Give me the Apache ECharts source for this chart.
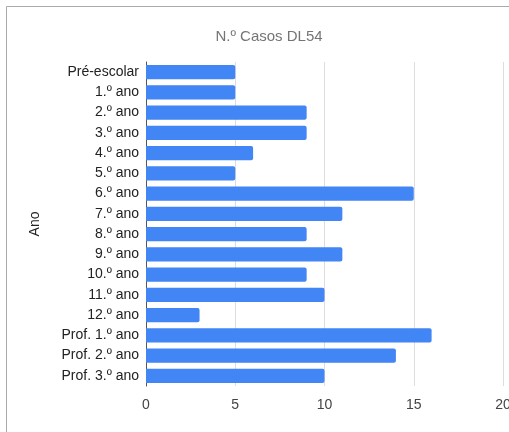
<!DOCTYPE html>
<html><head><meta charset="utf-8">
<script src="https://cdn.jsdelivr.net/npm/echarts@6/dist/echarts.min.js"></script>
<style>html,body{margin:0;padding:0;background:#fff;}#c{width:509px;height:432px;}</style>
</head><body><div id="c"></div>
<script>
const categories = ["Pré-escolar","1.º ano","2.º ano","3.º ano","4.º ano","5.º ano","6.º ano","7.º ano","8.º ano","9.º ano","10.º ano","11.º ano","12.º ano","Prof. 1.º ano","Prof. 2.º ano","Prof. 3.º ano"];
const casos = [5,5,9,9,6,5,15,11,9,11,9,10,3,16,14,10];
const xTicks = [0,5,10,15,20];
const chartTitle = 'N.º Casos DL54';
const chart = echarts.init(document.getElementById('c'), null, {renderer:'canvas'});
const FF = 'Liberation Sans, Arial, sans-serif';
chart.setOption({
  animation:false,
  backgroundColor:'#fff',
  graphic:[
    {type:'rect',shape:{x:6.5,y:6.5,width:700,height:700},style:{fill:'none',stroke:'#aaa',lineWidth:1},silent:true},
    {type:'text',x:269,y:37,style:{text:chartTitle,fontFamily:FF,fontSize:15,fill:'#757575',textAlign:'center',textVerticalAlign:'middle'},silent:true}
  ],
  grid:{left:146,right:6,top:62,bottom:46,containLabel:false,outerBoundsMode:'none'},
  xAxis:{type:'value',min:xTicks[0],max:xTicks[xTicks.length-1],interval:5,
    axisLine:{show:false},axisTick:{show:false},
    splitLine:{show:true,lineStyle:{color:'#ddd',width:1}},
    axisLabel:{margin:12,fontFamily:FF,fontSize:14,color:'#444',hideOverlap:false}},
  yAxis:{type:'category',data:categories,inverse:true,name:'Ano',nameLocation:'middle',nameGap:104,
    nameTextStyle:{fontFamily:FF,fontSize:14,color:'#222'},
    axisLine:{show:true,lineStyle:{color:'#555',width:1}},axisTick:{show:false},
    axisLabel:{margin:7,fontFamily:FF,fontSize:14,color:'#222'}},
  series:[{type:'bar',data:casos,barCategoryGap:'30%',itemStyle:{color:'#4285f4',borderRadius:[0,2,2,0]}}]
});
</script></body></html>
